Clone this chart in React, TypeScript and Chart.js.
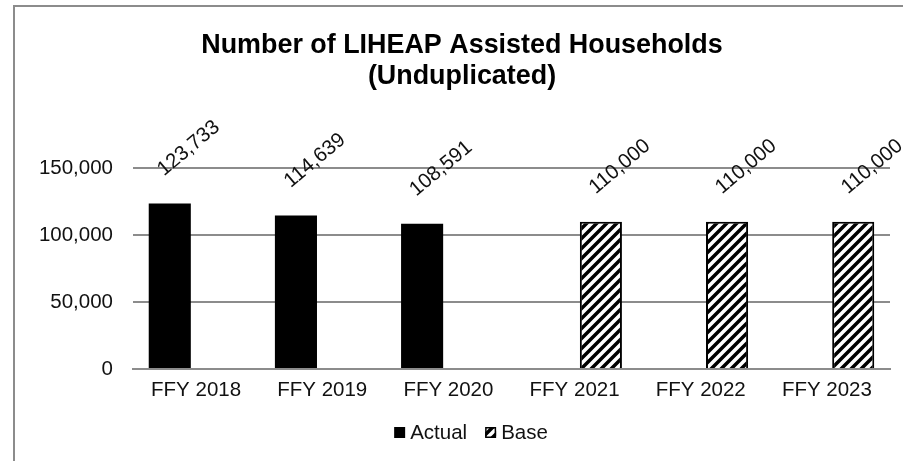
import React, { useEffect, useRef } from "react";
import { Chart, registerables } from "chart.js";

Chart.register(...registerables);

const categories = ["FFY 2018", "FFY 2019", "FFY 2020", "FFY 2021", "FFY 2022", "FFY 2023"];
const actualValues = [123733, 114639, 108591, null, null, null];
const baseValues = [null, null, null, 110000, 110000, 110000];
const seriesNames = ["Actual", "Base"];
const titleLines = ["Number of LIHEAP Assisted Households", "(Unduplicated)"];
const yMin = 0;
const yMax = 150000;
const yStep = 50000;

const FONT = "'Liberation Sans', Arial, Helvetica, sans-serif";
const TEXT = "#111111";
const GRID = "#8c8c8c";

const fmt = (v: number) => v.toLocaleString("en-US");

function makeHatch(ctx: CanvasRenderingContext2D) {
  const c = document.createElement("canvas");
  c.width = 10;
  c.height = 10;
  const g = c.getContext("2d")!;
  g.fillStyle = "#ffffff";
  g.fillRect(0, 0, 10, 10);
  g.strokeStyle = "#000000";
  g.lineWidth = 3.5;
  g.beginPath();
  g.moveTo(-5, 15);
  g.lineTo(15, -5);
  g.moveTo(-5, 5);
  g.lineTo(5, -5);
  g.moveTo(5, 15);
  g.lineTo(15, 5);
  g.stroke();
  return ctx.createPattern(c, "repeat")!;
}

const borderPlugin = {
  id: "outerBorder",
  beforeDraw(chart: any) {
    const ctx = chart.ctx;
    ctx.save();
    ctx.fillStyle = "#ffffff";
    ctx.fillRect(0, 0, chart.width, chart.height);
    ctx.strokeStyle = GRID;
    ctx.lineWidth = 2;
    ctx.strokeRect(14, 6, 2000, 2000);
    ctx.restore();
  },
};

const labelPlugin = {
  id: "barLabels",
  afterDatasetsDraw(chart: any) {
    const ctx = chart.ctx;
    ctx.save();
    ctx.font = `20.5px ${FONT}`;
    ctx.fillStyle = TEXT;
    ctx.textAlign = "center";
    ctx.textBaseline = "middle";
    chart.data.datasets.forEach((ds: any, di: number) => {
      const meta = chart.getDatasetMeta(di);
      meta.data.forEach((el: any, i: number) => {
        const v = ds.data[i];
        if (v == null) return;
        ctx.save();
        ctx.translate(el.x + 19, el.y - 55);
        ctx.rotate((-40 * Math.PI) / 180);
        ctx.fillText(fmt(v), 0, 0);
        ctx.restore();
      });
    });
    ctx.restore();
  },
};

const legendPlugin = {
  id: "customLegend",
  afterDraw(chart: any) {
    const ctx = chart.ctx;
    const cx = (chart.width + 39) / 2;
    const y = chart.chartArea.bottom + 63.5;
    const box = 11;
    const gap = 5;
    const itemGap = 18;
    ctx.save();
    ctx.font = `20.5px ${FONT}`;
    const widths = chart.data.datasets.map((d: any) => ctx.measureText(d.label).width);
    let total = 0;
    widths.forEach((w: number, i: number) => {
      total += box + gap + w + (i < widths.length - 1 ? itemGap : 0);
    });
    let x = cx - total / 2;
    chart.data.datasets.forEach((d: any, i: number) => {
      ctx.fillStyle = d.backgroundColor;
      ctx.fillRect(x, y - box / 2, box, box);
      if (d.borderWidth) {
        ctx.strokeStyle = "#000";
        ctx.lineWidth = 1.5;
        ctx.strokeRect(x + 0.75, y - box / 2 + 0.75, box - 1.5, box - 1.5);
      }
      ctx.fillStyle = TEXT;
      ctx.textAlign = "left";
      ctx.textBaseline = "middle";
      ctx.fillText(d.label, x + box + gap, y + 1);
      x += box + gap + widths[i] + itemGap;
    });
    ctx.restore();
  },
};

export default function App() {
  const ref = useRef<HTMLCanvasElement | null>(null);

  useEffect(() => {
    document.body.style.margin = "0";
    const canvas = ref.current!;
    const ctx = canvas.getContext("2d")!;
    const hatch = makeHatch(ctx);
    const chart = new Chart(canvas, {
      type: "bar",
      data: {
        labels: categories,
        datasets: [
          {
            label: seriesNames[0],
            data: actualValues,
            backgroundColor: "#000000",
            borderWidth: 0,
            categoryPercentage: 0.834,
            barPercentage: 0.8,
          },
          {
            label: seriesNames[1],
            data: baseValues,
            backgroundColor: hatch as any,
            borderColor: "#000000",
            borderWidth: 2,
            categoryPercentage: 0.834,
            barPercentage: 0.8,
          },
        ],
      },
      options: {
        responsive: false,
        animation: false,
        devicePixelRatio: 1,
        layout: { padding: { left: 34, right: 13, top: 0, bottom: 0 } },
        plugins: {
          legend: { display: false },
          tooltip: { enabled: false },
          title: {
            display: true,
            text: titleLines,
            color: "#000000",
            font: { family: FONT, size: 26.9, weight: "bold", lineHeight: 1.12 },
            padding: { top: 31, bottom: 77 },
          },
        },
        scales: {
          x: {
            grid: { display: false, drawTicks: false },
            border: { display: true, color: GRID, width: 2 },
            ticks: {
              color: TEXT,
              font: { family: FONT, size: 20.5 },
              padding: 9,
              autoSkip: false,
              maxRotation: 0,
            },
            afterFit(scale: any) {
              scale.height = 92;
            },
          },
          y: {
            min: yMin,
            max: yMax,
            grid: { color: GRID, lineWidth: 2, drawTicks: false },
            border: { display: false },
            ticks: {
              stepSize: yStep,
              color: TEXT,
              font: { family: FONT, size: 20.5 },
              padding: 20,
              callback: (v: any) => fmt(Number(v)),
            },
            afterFit(scale: any) {
              scale.width = 99;
            },
          },
        },
      },
      plugins: [borderPlugin, labelPlugin, legendPlugin],
    });
    return () => chart.destroy();
  }, []);

  return (
    <div style={{ width: 903, height: 461 }}>
      <canvas ref={ref} width={903} height={461} style={{ display: "block" }} />
    </div>
  );
}
